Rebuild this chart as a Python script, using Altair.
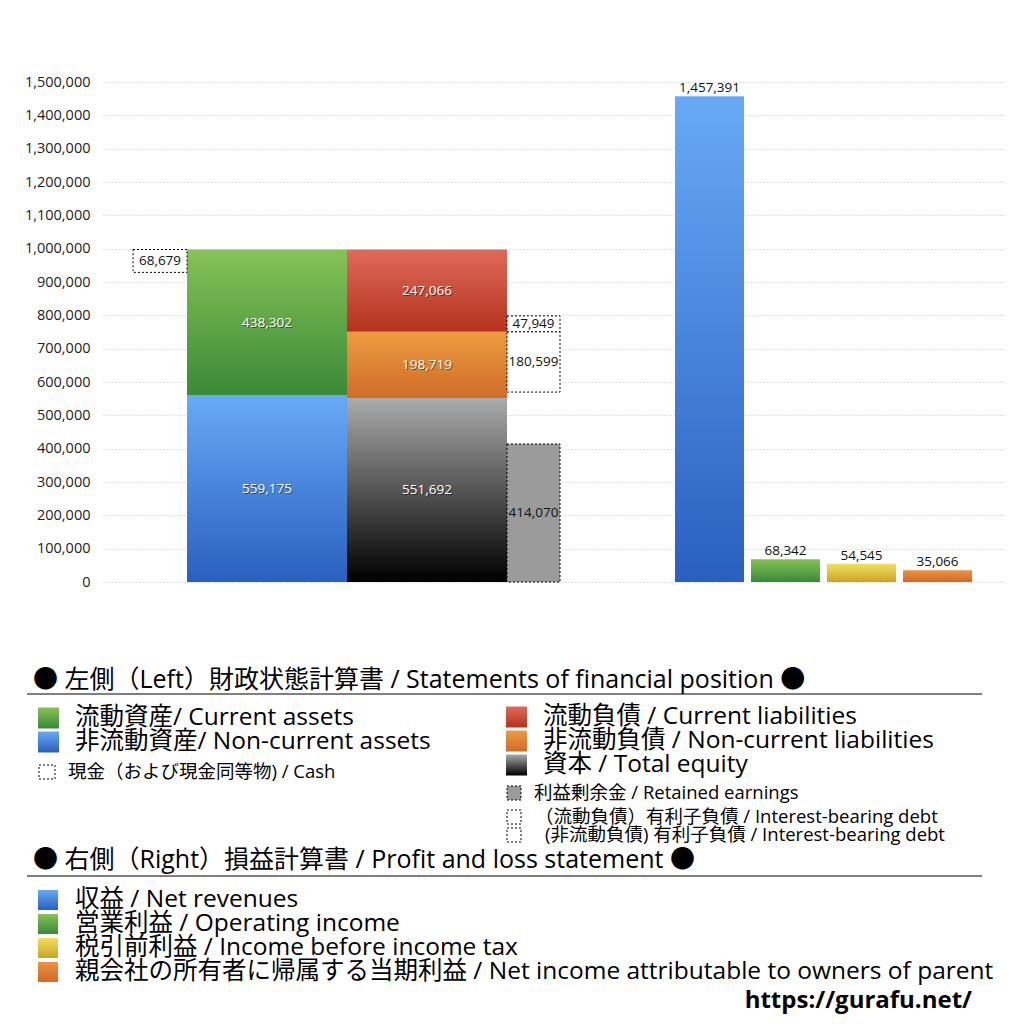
import altair as alt
import pandas as pd

NUM_FONT = "Open Sans"
FONT = "Open Sans, Noto Sans CJK JP"

# ---------------- data ----------------
asset_items = ["流動資産", "非流動資産"]
asset_values = [438302, 559175]
liability_items = ["流動負債", "非流動負債", "資本"]
liability_values = [247066, 198719, 551692]
cash_items = ["現金"]
cash_values = [68679]
debt_items = ["流動負債 有利子負債", "非流動負債 有利子負債"]
debt_values = [47949, 180599]
retained_items = ["利益剰余金"]
retained_values = [414070]
pl_items = ["収益", "営業利益", "税引前利益", "親会社の所有者に帰属する当期利益"]
pl_values = [1457391, 68342, 54545, 35066]
y_tick_values = [0, 100000, 200000, 300000, 400000, 500000, 600000, 700000,
                 800000, 900000, 1000000, 1100000, 1200000, 1300000, 1400000,
                 1500000]

legend_bs_title = "● 左側（Left）財政状態計算書 / Statements of financial position ●"
legend_bs_col1 = ["流動資産/ Current assets", "非流動資産/ Non-current assets"]
legend_bs_col1_small = ["現金（および現金同等物) / Cash"]
legend_bs_col2 = ["流動負債 /  Current liabilities",
                  "非流動負債 / Non-current liabilities",
                  "資本 / Total equity"]
legend_bs_col2_small = ["利益剰余金 / Retained earnings",
                        "（流動負債）有利子負債 / Interest-bearing debt",
                        "(非流動負債) 有利子負債 / Interest-bearing debt"]
legend_pl_title = "● 右側（Right）損益計算書 / Profit and loss statement ●"
legend_pl_items = ["収益 / Net revenues",
                   "営業利益 / Operating income",
                   "税引前利益 / Income before income tax",
                   "親会社の所有者に帰属する当期利益 / Net income attributable to owners of parent"]
source_text = "https://gurafu.net/"


# ---------------- styles ----------------
def grad(top, bottom):
    return {"gradient": "linear", "x1": 0, "y1": 0, "x2": 0, "y2": 1,
            "stops": [{"offset": 0, "color": top}, {"offset": 1, "color": bottom}]}


G_GREEN = grad("#86c257", "#3a8a38")
G_BLUE = grad("#68aaf6", "#2a5fc0")
G_RED = grad("#df6a5c", "#b6321b")
G_ORANGE = grad("#ed9c42", "#cf6b29")
G_GRAY = grad("#aaaaaa", "#000000")
G_YELLOW = grad("#f4df5a", "#c8a42a")
G_ORANGE2 = grad("#ee9342", "#cf6828")
asset_fills = [G_GREEN, G_BLUE]
liability_fills = [G_RED, G_ORANGE, G_GRAY]
pl_fills = [G_BLUE, G_GREEN, G_YELLOW, G_ORANGE2]
DOTTED = dict(fill="white", stroke="#000", strokeWidth=1, strokeDash=[2, 2])
RETAINED = dict(fill="#9b9b9b", stroke="#000", strokeWidth=1, strokeDash=[2, 2])
NUM_SIZE = 13.5
AXIS_SIZE = 14.5

# ---------------- geometry ----------------
W, H = 902, 500
OX, OY = 103, 82          # page position of the plot origin
TOTAL = 1008

YS = alt.Scale(domain=[0, 1500000], nice=False, zero=True)


def band(domain, lo, hi, inner=0.0):
    return alt.Scale(domain=domain, range=[lo, hi], paddingInner=inner, paddingOuter=0)


XS_BS = band(["資産", "負債・資本"], 84, 404)
XS_CASH = band(["現金"], 30, 84)
XS_SIDE = band(["内訳"], 404, 457)
XS_PL = band(pl_items, 572, 869, 7 / 76)

Y_AXIS = alt.Axis(values=y_tick_values, format=",d", title=None, ticks=False,
                  domain=False, orient="left", labelFont=NUM_FONT,
                  labelFontSize=AXIS_SIZE, labelColor="#222", labelPadding=13,
                  grid=True, gridColor="#c4c4c4", gridDash=[1, 2], gridWidth=1)


def stack(col, items, values):
    rows, base = [], 0
    for it, v in reversed(list(zip(items, values))):
        rows.append({"col": col, "item": it, "value": v, "y0": base,
                     "y1": base + v, "mid": base + v / 2})
        base += v
    return rows


asset_rows = stack("資産", asset_items, asset_values)
liab_rows = stack("負債・資本", liability_items, liability_values)
fill_of = dict(zip(asset_items + liability_items, asset_fills + liability_fills))

total_assets = sum(asset_values)
cash_rows = [{"col": "現金", "item": cash_items[0], "value": cash_values[0],
              "y0": total_assets - cash_values[0], "y1": total_assets,
              "mid": total_assets - cash_values[0] / 2}]
cur_liab = [r for r in liab_rows if r["item"] == "流動負債"][0]
noncur_liab = [r for r in liab_rows if r["item"] == "非流動負債"][0]
debt_rows = [
    {"col": "内訳", "item": debt_items[0], "value": debt_values[0],
     "y0": cur_liab["y0"], "y1": cur_liab["y0"] + debt_values[0],
     "mid": cur_liab["y0"] + debt_values[0] / 2},
    {"col": "内訳", "item": debt_items[1], "value": debt_values[1],
     "y0": noncur_liab["y1"] - debt_values[1], "y1": noncur_liab["y1"],
     "mid": noncur_liab["y1"] - debt_values[1] / 2},
]
retained_rows = [{"col": "内訳", "item": retained_items[0], "value": retained_values[0],
                  "y0": 0, "y1": retained_values[0], "mid": retained_values[0] / 2}]
pl_df = pd.DataFrame({"item": pl_items, "value": pl_values})


def seg_bar(rows, xscale, **mark):
    return alt.Chart(pd.DataFrame(rows)).mark_bar(**mark).encode(
        x=alt.X("col:N", scale=xscale, axis=None),
        y=alt.Y("y0:Q", scale=YS, axis=None),
        y2="y1:Q")


def seg_text(rows, xscale, color, **mark):
    return alt.Chart(pd.DataFrame(rows)).mark_text(
        font=NUM_FONT, fontSize=NUM_SIZE, color=color, baseline="middle", **mark).encode(
        x=alt.X("col:N", scale=xscale, axis=None),
        y=alt.Y("mid:Q", scale=YS, axis=None),
        text=alt.Text("value:Q", format=","))


# axis / grid
g_axis = alt.Chart(pd.DataFrame({"tick": y_tick_values})).mark_point(opacity=0).encode(
    y=alt.Y("tick:Q", scale=YS, axis=Y_AXIS))

# balance sheet bars
bs_layers = [seg_bar([r], XS_BS, fill=fill_of[r["item"]]) for r in asset_rows + liab_rows]
bs_layers.append(seg_text(asset_rows + liab_rows, XS_BS, "#000", opacity=0.45, dx=1, dy=1))
bs_layers.append(seg_text(asset_rows + liab_rows, XS_BS, "#ffffff"))
g_bs = alt.layer(*bs_layers)

g_cash = alt.layer(seg_bar(cash_rows, XS_CASH, **DOTTED),
                   seg_text(cash_rows, XS_CASH, "#111"))

g_side = alt.layer(seg_bar(retained_rows, XS_SIDE, **RETAINED),
                   seg_bar(debt_rows, XS_SIDE, **DOTTED),
                   seg_text(retained_rows + debt_rows, XS_SIDE, "#111"))

# profit and loss bars
pl_layers = []
for item, f in zip(pl_items, pl_fills):
    pl_layers.append(alt.Chart(pl_df).transform_filter(alt.datum.item == item).mark_bar(fill=f).encode(
        x=alt.X("item:N", scale=XS_PL, axis=None),
        y=alt.Y("value:Q", scale=YS, axis=None)))
pl_layers.append(alt.Chart(pl_df).mark_text(font=NUM_FONT, fontSize=NUM_SIZE, color="#111",
                                            baseline="alphabetic", dy=-4).encode(
    x=alt.X("item:N", scale=XS_PL, axis=None),
    y=alt.Y("value:Q", scale=YS, axis=None),
    text=alt.Text("value:Q", format=",")))
g_pl = alt.layer(*pl_layers)

# ---------------- legend block (below the plot) ----------------
LX = alt.Scale(domain=[0, W], range=[0, W], nice=False, zero=False)
LY = alt.Scale(domain=[0, H], range=[0, H], nice=False, zero=False)
HEAD, BIG, SMALL = 25, 24.5, 18.5
ROW = 24


def px(x):
    return x - OX


def py(y):
    return y - OY


text_rows = [{"text": legend_bs_title, "x": px(33), "y": py(680), "size": HEAD}]
for i, t in enumerate(legend_bs_col1):
    text_rows.append({"text": t, "x": px(75), "y": py(718 + i * ROW), "size": BIG})
text_rows.append({"text": legend_bs_col1_small[0], "x": px(68), "y": py(772), "size": SMALL})
for i, t in enumerate(legend_bs_col2):
    text_rows.append({"text": t, "x": px(543), "y": py(717 + i * ROW), "size": BIG})
for t, xx, yy in zip(legend_bs_col2_small, [534, 535, 545], [793, 817, 835]):
    text_rows.append({"text": t, "x": px(xx), "y": py(yy), "size": SMALL})
text_rows.append({"text": legend_pl_title, "x": px(33), "y": py(860), "size": HEAD})
for i, t in enumerate(legend_pl_items):
    text_rows.append({"text": t, "x": px(75), "y": py(900 + i * ROW), "size": BIG})
text_df = pd.DataFrame(text_rows)


def lx_enc(f):
    return alt.X(f"{f}:Q", scale=LX, axis=None)


def ly_enc(f):
    return alt.Y(f"{f}:Q", scale=LY, axis=None)


leg_layers = [alt.Chart(text_df).mark_text(font=FONT, align="left", baseline="middle",
                                           color="#000").encode(
    x=lx_enc("x"), y=ly_enc("y"), text="text:N",
    size=alt.Size("size:Q", scale=None, legend=None))]

leg_layers.append(alt.Chart(pd.DataFrame({"t": [source_text], "x": [px(972)], "y": [py(1001)]})).mark_text(
    font=FONT, fontSize=24, fontWeight="bold", align="right", baseline="middle", color="#000").encode(
    x=lx_enc("x"), y=ly_enc("y"), text="t:N"))

rule_df = pd.DataFrame({"x": [px(27), px(27)], "x2": [px(982), px(982)], "y": [py(694), py(876)]})
leg_layers.append(alt.Chart(rule_df).mark_rule(color="#000", strokeWidth=1).encode(
    x=lx_enc("x"), x2="x2:Q", y=ly_enc("y")))


def swatch(rows, **mark):
    return alt.Chart(pd.DataFrame(rows)).mark_rect(**mark).encode(
        x=lx_enc("x"), x2="x2:Q", y=ly_enc("y"), y2="y2:Q")


def sq(x0, cy, w, h):
    return {"x": px(x0), "x2": px(x0 + w), "y": py(cy - h / 2), "y2": py(cy + h / 2)}


for i, f in enumerate(asset_fills):
    leg_layers.append(swatch([sq(38, 718 + i * ROW, 21, 21)], fill=f))
for i, f in enumerate(liability_fills):
    leg_layers.append(swatch([sq(506, 717 + i * ROW, 21, 21)], fill=f))
for i, f in enumerate(pl_fills):
    leg_layers.append(swatch([sq(38, 900 + i * ROW, 20, 20)], fill=f))
leg_layers.append(swatch([sq(39, 772, 16, 14), sq(507, 817, 14, 14), sq(507, 835, 14, 14)], **DOTTED))
leg_layers.append(swatch([sq(507, 793, 14, 14)], **RETAINED))
g_leg = alt.layer(*leg_layers)

chart = alt.layer(g_axis, g_bs, g_cash, g_side, g_pl, g_leg).resolve_scale(
    x="independent", y="independent"
).properties(
    width=W, height=H,
    autosize=alt.AutoSizeParams(type="none"),
    padding={"left": OX - 8, "top": OY - 8, "right": TOTAL - (OX - 8) - W,
             "bottom": TOTAL - (OY - 8) - H},
    background="white",
).configure_view(stroke=None)

chart.save("out.html", embed_options={"renderer": "svg", "actions": False})
